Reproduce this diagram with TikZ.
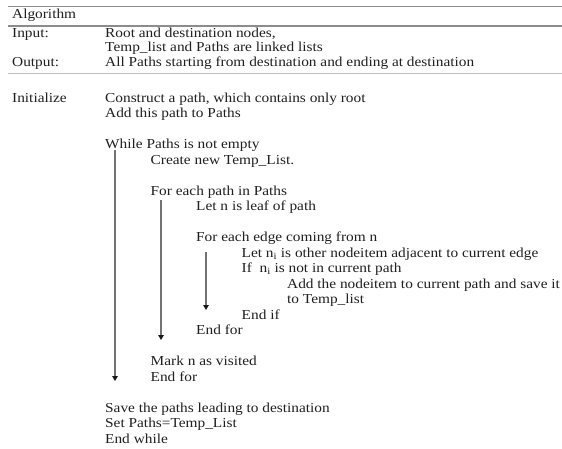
\documentclass[tikz,border=0pt]{standalone}
\usepackage{fontspec}
\setmainfont[FakeStretch=1.12]{Liberation Serif}
\usetikzlibrary{arrows.meta}

\begin{document}
\begin{tikzpicture}[x=1pt,y=-1pt,
  txt/.style={anchor=mid west, inner sep=0pt, font=\fontsize{13.7}{15}\selectfont, text=black!88},
  ruledark/.style={line width=1.4pt, draw=black!45},
  rulelight/.style={line width=1.3pt, draw=black!25},
  flow/.style={line width=1.3pt, draw=black!55, -{Triangle[width=5.5pt,length=5pt,color=black!90]}}]
\useasboundingbox (0,0) rectangle (562,448);

% header table rules
\coordinate (r1a) at (8,6.7);   \coordinate (r1b) at (562,6.7);
\coordinate (r2a) at (8,26);    \coordinate (r2b) at (562,26);
\coordinate (r3a) at (8,73.5);  \coordinate (r3b) at (562,73.5);
\draw[ruledark] (r1a) -- (r1b);
\draw[ruledark] (r2a) -- (r2b);
\draw[rulelight] (r3a) -- (r3b);

% header text
\node[txt] (alg)   at (12,16.7)  {Algorithm};
\node[txt] (inl)   at (12,35)    {Input:};
\node[txt] (in1)   at (105,35)   {Root and destination nodes,};
\node[txt] (in2)   at (105,49.5) {Temp\_list and Paths are linked lists};
\node[txt] (outl)  at (12,64)    {Output:};
\node[txt] (out1)  at (105,64)   {All Paths starting from destination and ending at destination};

% algorithm body
\node[txt] (initl) at (12,100)    {Initialize};
\node[txt] (l0)  at (105,100)     {Construct a path, which contains only root};
\node[txt] (l1)  at (105,115.5)   {Add this path to Paths};
\node[txt] (l3)  at (105,146.5)   {While Paths is not empty};
\node[txt] (l4)  at (150.5,162)   {Create new Temp\_List.};
\node[txt] (l6)  at (150.5,193)   {For each path in Paths};
\node[txt] (l7)  at (196,208.5)   {Let n is leaf of path};
\node[txt] (l9)  at (196,239.5)   {For each edge coming from n};
\node[txt] (l10) at (241.5,255)   {Let n\textsubscript{i} is other nodeitem adjacent to current edge};
\node[txt] (l11) at (241.5,270.5) {If\ \ n\textsubscript{i} is not in current path};
\node[txt] (l12) at (287,286)     {Add the nodeitem to current path and save it};
\node[txt] (l13) at (287,301.5)   {to Temp\_list};
\node[txt] (l14) at (241.5,317)   {End if};
\node[txt] (l15) at (196,332.5)   {End for};
\node[txt] (l17) at (150.5,363.5) {Mark n as visited};
\node[txt] (l18) at (150.5,379)   {End for};
\node[txt] (l20) at (105,410)     {Save the paths leading to destination};
\node[txt] (l21) at (105,425.5)   {Set Paths=Temp\_List};
\node[txt] (l22) at (105,441)     {End while};

% loop extent arrows
\coordinate (whileTop) at (115,150);  \coordinate (whileEnd) at (115,381);
\coordinate (pathTop)  at (161,200);  \coordinate (pathEnd)  at (161,340);
\coordinate (edgeTop)  at (206,252);  \coordinate (edgeEnd)  at (206,310);
\draw[flow] (whileTop) -- (whileEnd);
\draw[flow] (pathTop) -- (pathEnd);
\draw[flow] (edgeTop) -- (edgeEnd);
\end{tikzpicture}
\end{document}
